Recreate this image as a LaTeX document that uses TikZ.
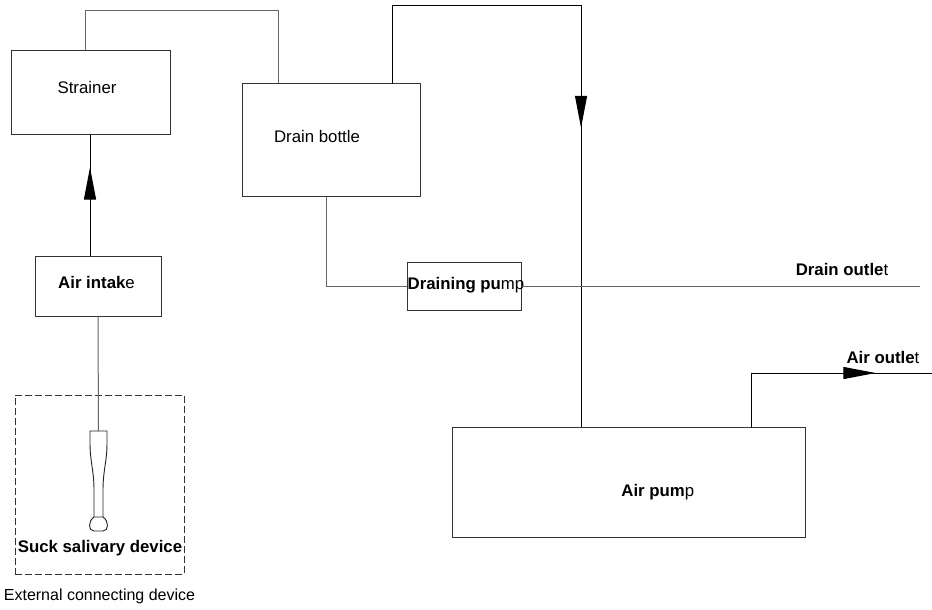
\documentclass[tikz,border=0pt]{standalone}
\usepackage{fontspec}
\setmainfont{Liberation Sans}
\usetikzlibrary{arrows.meta,decorations.markings}

\begin{document}
\begin{tikzpicture}[x=0.75pt, y={(0,-0.75pt)},
        every node/.style = {font=\fontsize{12.6}{15}\selectfont},
        box/.style = {draw=black!80, line width=0.75pt, inner sep=0pt},
        pipe/.style = {draw=black!60, line width=0.75pt},
        air/.style = {draw=black, line width=0.75pt, postaction=decorate},
        flowtip/.tip = {Triangle[length=24pt, width=9pt]},
        tipat/.style = {decoration={markings,
                        mark=at position #1 with {\arrow{flowtip}}}}]
    \useasboundingbox (0,0) rectangle (932,610);
    % units
    \node[box, minimum width=119.25pt, minimum height=62.25pt,
          label={[xshift=-2.6pt, yshift=3.4pt]center:Strainer}] (strainer) at (90.5,92.5) {};
    \node[box, minimum width=133.5pt, minimum height=84pt,
          label={[xshift=-10.5pt, yshift=3pt]center:Drain bottle}] (bottle) at (331,140) {};
    \node[box, minimum width=85.5pt, minimum height=36pt,
          label={[xshift=1.5pt, yshift=0.75pt]center:\textbf{Draining pu}mp}] (pump) at (464,286) {};
    \node[box, minimum width=94.5pt, minimum height=45pt,
          label={[xshift=-1.1pt, yshift=3pt]center:\textbf{Air intak}e}] (intake) at (98,286) {};
    \node[box, minimum width=264.75pt, minimum height=82.5pt,
          label={[xshift=22pt, yshift=-7.5pt]center:\textbf{Air pum}p}] (airpump) at (628.5,482) {};
    \node[box, dash pattern=on 5.25pt off 2.25pt, minimum width=126.75pt,
          minimum height=134.25pt] (ext) at (99.5,484.5) {};
    % suction handpiece
    \coordinate (devtop) at (98.5,431);
    \draw[black!85, line width=0.7pt] (90,443) -- (90,431) -- (107,431) -- (107,443)
        .. controls (107,462) and (103,470) .. (103,490) -- (103,517) -- (94,517) -- (94,490)
        .. controls (94,470) and (90,462) .. (90,443);
    \draw[black!85, line width=0.7pt] (94,517) .. controls (88,521) and (88,531) .. (94,531)
        -- (103,531) .. controls (109,531) and (109,521) .. (103,517);
    % labels
    \node (devlabel) at (100,548) {\textbf{Suck salivary device}};
    \node[font=\fontsize{12}{14}\selectfont] (extlabel) at (99.5,596) {External connecting device};
    \node (drainlabel) at (842,269) {\textbf{Drain outle}t};
    \node (airlabel) at (883,357) {\textbf{Air outle}t};
    \coordinate (drainout) at (920,286);
    \coordinate (airout) at (932,373);
    % lines
    \draw[pipe] ([xshift=-3.4pt]strainer.north) -- ++(0,-40) -| ([xshift=-39.75pt]bottle.north);
    \draw[air, tipat=292pt] ([xshift=45.75pt]bottle.north) -- ++(0,-78) -| ([xshift=-35.6pt]airpump.north);
    \draw[pipe] ([xshift=-3.75pt]bottle.south) |- (pump.west);
    \draw[pipe] (pump.east) -- (drainout);
    \draw[air, tipat=66pt] ([xshift=-6pt]intake.north) -- ([xshift=-6pt]intake.north |- strainer.south);
    \draw[pipe] (intake.south) -- (devtop);
    \draw[air, tipat=132.75pt] ([xshift=92.6pt]airpump.north) |- (airout);
\end{tikzpicture}
\end{document}
